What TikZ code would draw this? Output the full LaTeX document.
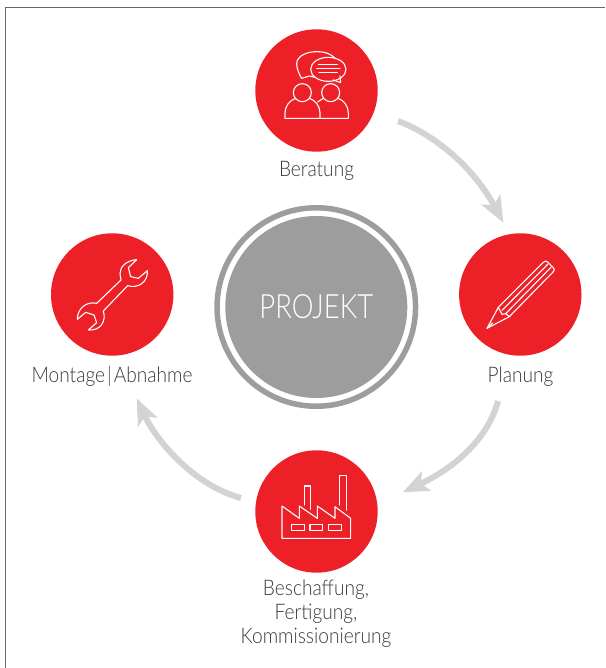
\documentclass[tikz,border=0pt]{standalone}
\usepackage{fontspec}
\setmainfont{Lato}[UprightFont=* Light,FakeStretch=0.89]
\newfontfamily\hubfont{Lato}[UprightFont=* Light,FakeStretch=0.82]
\usetikzlibrary{arrows.meta}
\definecolor{brandred}{HTML}{EE2027}
\definecolor{arrowgrey}{HTML}{D1D3D4}
\definecolor{hubgrey}{HTML}{9D9D9D}
\definecolor{txt}{HTML}{3A3A3C}
\definecolor{framegrey}{HTML}{666666}
\begin{document}
\begin{tikzpicture}[x=1pt,y=-1pt,
  redcirc/.style={circle,fill=brandred,minimum size=122.4pt,inner sep=0pt},
  lab/.style={text=txt,font=\fontsize{21.5}{24}\selectfont,align=center,inner sep=0pt},
  ic/.style={draw=white,line width=1.1pt,line join=round,line cap=round},
  zoomed/.style={x=0.33333pt,y=-0.33333pt},
  arr/.style={draw=arrowgrey,line width=6pt,-{Stealth[length=26pt,width=21pt,inset=6pt,fill=arrowgrey]}}]
\useasboundingbox (0,0) rectangle (605,668);
\draw[draw=framegrey,line width=1pt] (5.5,668) -- (5.5,7.2) -- (605,7.2);
% hub
\node (hubring) at (316.3,307) [circle,draw=hubgrey,line width=5.5pt,fill=white,minimum size=198.5pt,inner sep=0pt] {};
\node (hub) at (316.3,307) [circle,fill=hubgrey,minimum size=182pt,inner sep=0pt,text=white,font=\hubfont\fontsize{33.5}{40}\selectfont] {PROJEKT};
% circles
\node[redcirc] (a) at (316.5,90.5) {};
\node[redcirc] (b) at (520.3,294.5) {};
\node[redcirc] (c) at (316.5,511.5) {};
\node[redcirc] (d) at (112.2,294.5) {};
% labels
\node[lab] (la) at (316.5,171) {Beratung};
\node[lab] (lb) at (520.5,376.5) {Planung};
\node[lab] (lc) at (316,614) {Beschaffung,\\Fertigung,\\Kommissionierung};
\node[lab] (ld) at (112,376.5) {Montage\hspace{2pt}|\hspace{2pt}Abnahme};
% arrows
\coordinate (ab1) at (398,121);
\coordinate (ab2) at (503.3,222.7);
\coordinate (bc1) at (498,401);
\coordinate (bc2) at (402.7,492.3);
\coordinate (cd1) at (241,498);
\coordinate (cd2) at (136.7,398.3);
\draw[arr] (ab1) .. controls (440,137) and (476,172) .. (ab2);
\draw[arr] (bc1) .. controls (487,442) and (450,470) .. (bc2);
\draw[arr] (cd1) .. controls (193,485) and (156,440) .. (cd2);
% people icon (crop 250,0)
\begin{scope}[xshift=250pt,yshift=0pt,zoomed]
  \draw[ic] (155,235) .. controls (148,225) and (140,205) .. (140,192)
     .. controls (140,168) and (170,155) .. (200,155)
     .. controls (225,155) and (245,162) .. (256,176);
  \draw[ic] (155,235) -- (178,228) -- (195,232);
  \draw[ic] (235,208) ellipse [x radius=53,y radius=36];
  \draw[ic] (250,240) -- (272,248) -- (270,228);
  \foreach \yy/\xa/\xb in {193/205/262,205/200/270,217/207/262}
    \draw[ic] (\xa,\yy) -- (\xb,\yy);
  \draw[ic] (157,278) circle [radius=27];
  \draw[ic] (242,278) circle [radius=27];
  \draw[ic] (105,355) -- (105,338) .. controls (105,318) and (120,300) .. (137,295);
  \draw[ic] (178,295) .. controls (195,300) and (210,318) .. (210,338) -- (210,355);
  \draw[ic] (105,355) -- (295,355) -- (295,338) .. controls (295,318) and (280,300) .. (264,295);
  \draw[ic] (203,306) -- (220,295);
\end{scope}
% pencil icon (crop 455,235)
\begin{scope}[xshift=455pt,yshift=-235pt,zoomed]
  \draw[ic] (96,280) -- (130,217) -- (265,82) .. controls (270,77) and (274,77) .. (278,81)
     -- (294,97) .. controls (299,102) and (299,106) .. (295,110) -- (163,245) -- cycle;
  \draw[ic] (141,226) -- (279,87);
  \draw[ic] (152,236) -- (289,96);
  \draw[ic] (130,217) -- (141,238) -- (152,236) -- (163,245);
  \draw[ic] (96,280) -- (113,264);
\end{scope}
% factory icon (crop 250,450)
\begin{scope}[xshift=250pt,yshift=-450pt,zoomed]
  \draw[ic] (96,265) -- (96,168) -- (148,205) -- (148,168) -- (202,205) -- (202,168)
     -- (255,205) -- (255,170) -- (302,205) -- (302,265) -- cycle;
  \draw[ic] (163,165) -- (163,108) -- (182,108) -- (182,178);
  \draw[ic] (268,165) -- (268,77) -- (289,77) -- (289,180);
  \draw[ic] (125,224) rectangle (163,242);
  \draw[ic] (180,224) rectangle (218,242);
  \draw[ic] (236,224) rectangle (274,242);
\end{scope}
% wrench icon (crop 45,225)
\begin{scope}[xshift=45pt,yshift=-225pt,zoomed]
  \draw[ic] (275,104) .. controls (245,106) and (225,125) .. (225,145)
     .. controls (225,155) and (228,160) .. (228,165) -- (155,235)
     .. controls (125,228) and (97,250) .. (97,283)
     -- (122,262) -- (147,270) -- (155,293) -- (130,315)
     .. controls (165,318) and (185,290) .. (175,258) -- (248,182)
     .. controls (280,192) and (310,170) .. (307,137)
     -- (280,160) -- (257,155) -- (250,128) -- cycle;
\end{scope}
\end{tikzpicture}
\end{document}
